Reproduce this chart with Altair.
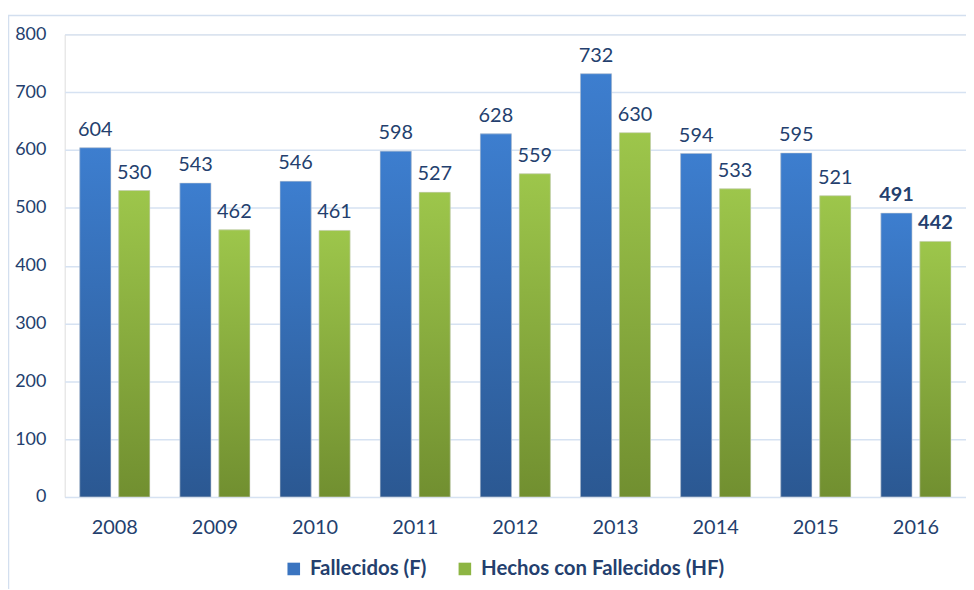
import altair as alt
import pandas as pd

years = ["2008", "2009", "2010", "2011", "2012", "2013", "2014", "2015", "2016"]
fallecidos = [604, 543, 546, 598, 628, 732, 594, 595, 491]
hechos = [530, 462, 461, 527, 559, 630, 533, 521, 442]
series_names = ["Fallecidos (F)", "Hechos con Fallecidos (HF)"]
y_ticks = [0, 100, 200, 300, 400, 500, 600, 700, 800]

rows = []
for i, yr in enumerate(years):
    rows.append({"year": yr, "serie": series_names[0], "value": fallecidos[i],
                 "bold": yr == "2016"})
    rows.append({"year": yr, "serie": series_names[1], "value": hechos[i],
                 "bold": yr == "2016"})
df = pd.DataFrame(rows)

TEXT = "#243F6E"
GRID = "#D6E2F2"
FONT = "Lato"

W, H = 906, 465

x_enc = alt.X("year:N", sort=years, title=None,
              scale=alt.Scale(paddingInner=0.3, paddingOuter=0.15),
              axis=alt.Axis(labelAngle=0, labelFontSize=20, labelColor=TEXT,
                            labelFont=FONT, ticks=False, domain=False,
                            labelPadding=21, grid=False))
xo_enc = alt.XOffset("serie:N", sort=series_names,
                     scale=alt.Scale(domain=series_names, paddingInner=0.2, paddingOuter=0))
y_enc = alt.Y("value:Q", title=None,
              scale=alt.Scale(domain=[0, 800], nice=False),
              axis=alt.Axis(values=y_ticks, labelFontSize=18, labelColor=TEXT,
                            labelFont=FONT, ticks=False, domain=False,
                            labelPadding=19, gridColor=GRID, gridWidth=1.5))

base = alt.Chart(df)

legend_bars = base.mark_bar().encode(
    x=x_enc, xOffset=xo_enc, y=y_enc,
    color=alt.Color("serie:N", sort=series_names,
                    scale=alt.Scale(domain=series_names, range=["#3A74C0", "#8DB543"]),
                    legend=alt.Legend(title=None, orient="none", direction="horizontal",
                                      legendX=220, legendY=527,
                                      symbolType="square", symbolSize=160,
                                      symbolStrokeWidth=0,
                                      labelFontSize=20.5, labelFontWeight="bold",
                                      labelColor=TEXT, labelFont=FONT, labelLimit=400,
                                      columnPadding=28, labelOffset=6)),
)

blue_grad = alt.Gradient(gradient="linear",
                         stops=[alt.GradientStop(color="#3D7ECF", offset=0),
                                alt.GradientStop(color="#2B5892", offset=1)],
                         x1=0, x2=0, y1=0, y2=1)
green_grad = alt.Gradient(gradient="linear",
                          stops=[alt.GradientStop(color="#9DC64B", offset=0),
                                 alt.GradientStop(color="#718F30", offset=1)],
                          x1=0, x2=0, y1=0, y2=1)

blue_bars = base.transform_filter(alt.datum.serie == series_names[0]).mark_bar(
    fill=blue_grad, stroke="#D8D8D8", strokeWidth=0.8, strokeOpacity=0.7
).encode(x=x_enc, xOffset=xo_enc, y=y_enc)
green_bars = base.transform_filter(alt.datum.serie == series_names[1]).mark_bar(
    fill=green_grad, stroke="#D8D8D8", strokeWidth=0.8, strokeOpacity=0.7
).encode(x=x_enc, xOffset=xo_enc, y=y_enc)

labels_normal = base.transform_filter(alt.datum.bold == False).mark_text(
    baseline="alphabetic", dy=-12, fontSize=20, color=TEXT, font=FONT
).encode(x=x_enc, xOffset=xo_enc, y=y_enc, text=alt.Text("value:Q"))
labels_bold = base.transform_filter(alt.datum.bold == True).mark_text(
    baseline="alphabetic", dy=-12, fontSize=20, color=TEXT, font=FONT, fontWeight="bold"
).encode(x=x_enc, xOffset=xo_enc, y=y_enc, text=alt.Text("value:Q"))

border = alt.Chart(pd.DataFrame({"k": [0]})).mark_rect(
    fill=None, stroke="#D3DFEF", strokeWidth=1.5
).encode(x=alt.value(-56.5), x2=alt.value(W + 40), y=alt.value(-19), y2=alt.value(H + 150))

chart = alt.layer(border, legend_bars, blue_bars, green_bars, labels_normal, labels_bold).properties(
    width=W, height=H,
    autosize=alt.AutoSizeParams(type="none"),
    padding={"left": 57, "top": 25, "right": 0, "bottom": 91},
).configure_view(stroke=None).configure(background="white")

chart.save("out.html", embed_options={"renderer": "svg", "actions": False})
